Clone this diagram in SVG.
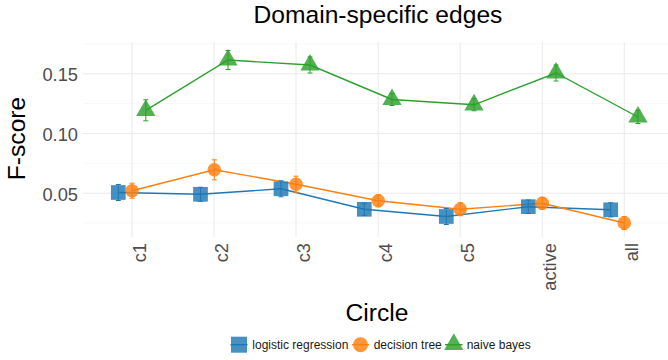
<svg xmlns="http://www.w3.org/2000/svg" xmlns:xlink="http://www.w3.org/1999/xlink" width="668" height="360" viewBox="0 0 668 360">
  <style>
    text { font-family: "Liberation Sans", Arial, sans-serif; }
    .grid-major { stroke: #ebebeb; stroke-width: 1.1; fill: none; }
    .grid-minor { stroke: #f3f3f3; stroke-width: 0.6; fill: none; }
    .tick { font-size: 18.3px; fill: #4d4d4d; }
    .axis-title { font-size: 24.6px; fill: #000; }
    .title { font-size: 24.6px; fill: #000; }
    .legend { font-size: 12px; fill: #1a1a1a; }
    .line-lr { stroke: #1f77b4; stroke-width: 1.4; fill: none; }
    .line-dt { stroke: #ff7f0e; stroke-width: 1.4; fill: none; }
    .line-nb { stroke: #2ca02c; stroke-width: 1.4; fill: none; }
    .pt-lr { fill: #1f77b4; fill-opacity: 0.82; }
    .pt-dt { fill: #ff7f0e; fill-opacity: 0.82; }
    .pt-nb { fill: #2ca02c; fill-opacity: 0.82; }
    .err-lr { stroke: #1f77b4; stroke-width: 1; fill: none; }
    .err-dt { stroke: #ff7f0e; stroke-width: 1; fill: none; }
    .err-nb { stroke: #2ca02c; stroke-width: 1; fill: none; }
  </style>
  <defs>
    <rect id="sq" x="-7.35" y="-7.35" width="14.7" height="14.7"/>
    <circle id="ci" cx="0" cy="0" r="6.8"/>
    <path id="tr" d="M0,-11.1 L9.65,5.6 L-9.65,5.6 Z"/>
  </defs>

  <rect width="668" height="360" fill="#ffffff"/>

  <!-- panel grid -->
  <g id="grid">
    <g class="grid-minor">
      <line x1="83" y1="44" x2="668" y2="44"/>
      <line x1="83" y1="103.5" x2="668" y2="103.5"/>
      <line x1="83" y1="163.3" x2="668" y2="163.3"/>
      <line x1="83" y1="223" x2="668" y2="223"/>
    </g>
    <g class="grid-major">
      <line x1="83" y1="73.7" x2="668" y2="73.7"/>
      <line x1="83" y1="133.5" x2="668" y2="133.5"/>
      <line x1="83" y1="193.3" x2="668" y2="193.3"/>
      <line x1="132" y1="42" x2="132" y2="237"/>
      <line x1="214" y1="42" x2="214" y2="237"/>
      <line x1="296" y1="42" x2="296" y2="237"/>
      <line x1="378.2" y1="42" x2="378.2" y2="237"/>
      <line x1="460.2" y1="42" x2="460.2" y2="237"/>
      <line x1="542.3" y1="42" x2="542.3" y2="237"/>
      <line x1="624.3" y1="42" x2="624.3" y2="237"/>
    </g>
  </g>

  <!-- axes text -->
  <g id="y-axis">
    <text class="tick" x="78" y="81" text-anchor="end">0.15</text>
    <text class="tick" x="78" y="140.8" text-anchor="end">0.10</text>
    <text class="tick" x="78" y="200.6" text-anchor="end">0.05</text>
    <text class="axis-title" transform="translate(25,138.5) rotate(-90)" text-anchor="middle">F-score</text>
  </g>
  <g id="x-axis">
    <text class="tick" transform="translate(146,243) rotate(-90)" text-anchor="end">c1</text>
    <text class="tick" transform="translate(228,243) rotate(-90)" text-anchor="end">c2</text>
    <text class="tick" transform="translate(310,243) rotate(-90)" text-anchor="end">c3</text>
    <text class="tick" transform="translate(392.2,243) rotate(-90)" text-anchor="end">c4</text>
    <text class="tick" transform="translate(474.2,243) rotate(-90)" text-anchor="end">c5</text>
    <text class="tick" transform="translate(556.3,243) rotate(-90)" text-anchor="end">active</text>
    <text class="tick" transform="translate(638.3,243) rotate(-90)" text-anchor="end">all</text>
    <text class="axis-title" x="377" y="321" text-anchor="middle">Circle</text>
  </g>
  <text class="title" x="378" y="23.3" text-anchor="middle">Domain-specific edges</text>

  <!-- series lines -->
  <g id="connectors">
    <polyline class="line-lr" points="118.3,192.5 200.5,194.3 281,188.8 364.3,209.3 446.3,216.5 528.3,206.7 610.7,209.8"/>
    <polyline class="line-dt" points="132,190.7 214.3,169.8 296,184.2 378.3,200.7 460.2,209.2 542.3,203.3 624.3,223"/>
    <polyline class="line-nb" points="145.8,110.3 228,60 310,65 392,99.5 474,104.8 556,73 638,117"/>
  </g>

  <!-- logistic regression points -->
  <g id="logistic-regression">
    <use href="#sq" class="pt-lr" x="118.3" y="192.5"/>
    <use href="#sq" class="pt-lr" x="200.5" y="194.3"/>
    <use href="#sq" class="pt-lr" x="281" y="188.8"/>
    <use href="#sq" class="pt-lr" x="364.3" y="209.3"/>
    <use href="#sq" class="pt-lr" x="446.3" y="216.5"/>
    <use href="#sq" class="pt-lr" x="528.3" y="206.7"/>
    <use href="#sq" class="pt-lr" x="610.7" y="209.8"/>
    <path class="err-lr" d="M118.3,184.5V200.5M115.8,184.5h5M115.8,200.5h5
      M200.5,187.3V201.3M198,187.3h5M198,201.3h5
      M281,180.8V196.8M278.5,180.8h5M278.5,196.8h5
      M364.3,203.3V215.3M361.8,203.3h5M361.8,215.3h5
      M446.3,208.5V224.5M443.8,208.5h5M443.8,224.5h5
      M528.3,200V213.4M525.8,200h5M525.8,213.4h5
      M610.7,202.8V216.8M608.2,202.8h5M608.2,216.8h5"/>
  </g>

  <!-- decision tree points -->
  <g id="decision-tree">
    <use href="#ci" class="pt-dt" x="132" y="190.7"/>
    <use href="#ci" class="pt-dt" x="214.3" y="169.8"/>
    <use href="#ci" class="pt-dt" x="296" y="184.2"/>
    <use href="#ci" class="pt-dt" x="378.3" y="200.7"/>
    <use href="#ci" class="pt-dt" x="460.2" y="209.2"/>
    <use href="#ci" class="pt-dt" x="542.3" y="203.3"/>
    <use href="#ci" class="pt-dt" x="624.3" y="223"/>
    <path class="err-dt" d="M132,183.2V198.2M129.5,183.2h5M129.5,198.2h5
      M214.3,159.8V179.8M211.8,159.8h5M211.8,179.8h5
      M296,176.2V192.2M293.5,176.2h5M293.5,192.2h5
      M378.3,194.7V206.7M375.8,194.7h5M375.8,206.7h5
      M460.2,202.7V215.7M457.7,202.7h5M457.7,215.7h5
      M542.3,197.3V209.3M539.8,197.3h5M539.8,209.3h5
      M624.3,216.5V229.5M621.8,216.5h5M621.8,229.5h5"/>
  </g>

  <!-- naive bayes points -->
  <g id="naive-bayes">
    <use href="#tr" class="pt-nb" x="145.8" y="110.3"/>
    <use href="#tr" class="pt-nb" x="228" y="60"/>
    <use href="#tr" class="pt-nb" x="310" y="65"/>
    <use href="#tr" class="pt-nb" x="392" y="99.5"/>
    <use href="#tr" class="pt-nb" x="474" y="104.8"/>
    <use href="#tr" class="pt-nb" x="556" y="73"/>
    <use href="#tr" class="pt-nb" x="638" y="117"/>
    <path class="err-nb" d="M145.8,99.8V120.8M143.3,99.8h5M143.3,120.8h5
      M228,50.5V69.5M225.5,50.5h5M225.5,69.5h5
      M310,57V73M307.5,57h5M307.5,73h5
      M392,93.5V105.5M389.5,93.5h5M389.5,105.5h5
      M474,98.8V110.8M471.5,98.8h5M471.5,110.8h5
      M556,65V81M553.5,65h5M553.5,81h5
      M638,110.5V123.5M635.5,110.5h5M635.5,123.5h5"/>
  </g>

  <!-- legend -->
  <g id="legend">
    <g id="legend-lr">
      <rect x="231" y="336.7" width="16" height="16" class="pt-lr"/>
      <line class="line-lr" x1="230.5" y1="344.7" x2="247.5" y2="344.7"/>
      <text class="legend" x="252.3" y="349">logistic regression</text>
    </g>
    <g id="legend-dt">
      <circle cx="360.5" cy="344.7" r="7.5" class="pt-dt"/>
      <line class="line-dt" x1="352" y1="344.7" x2="369" y2="344.7"/>
      <text class="legend" x="373.7" y="349">decision tree</text>
    </g>
    <g id="legend-nb">
      <path d="M453.8,333.3 L463.4,350 L444.2,350 Z" class="pt-nb"/>
      <line class="line-nb" x1="445" y1="344.7" x2="462.6" y2="344.7"/>
      <text class="legend" x="466.7" y="349">naive bayes</text>
    </g>
  </g>
</svg>
